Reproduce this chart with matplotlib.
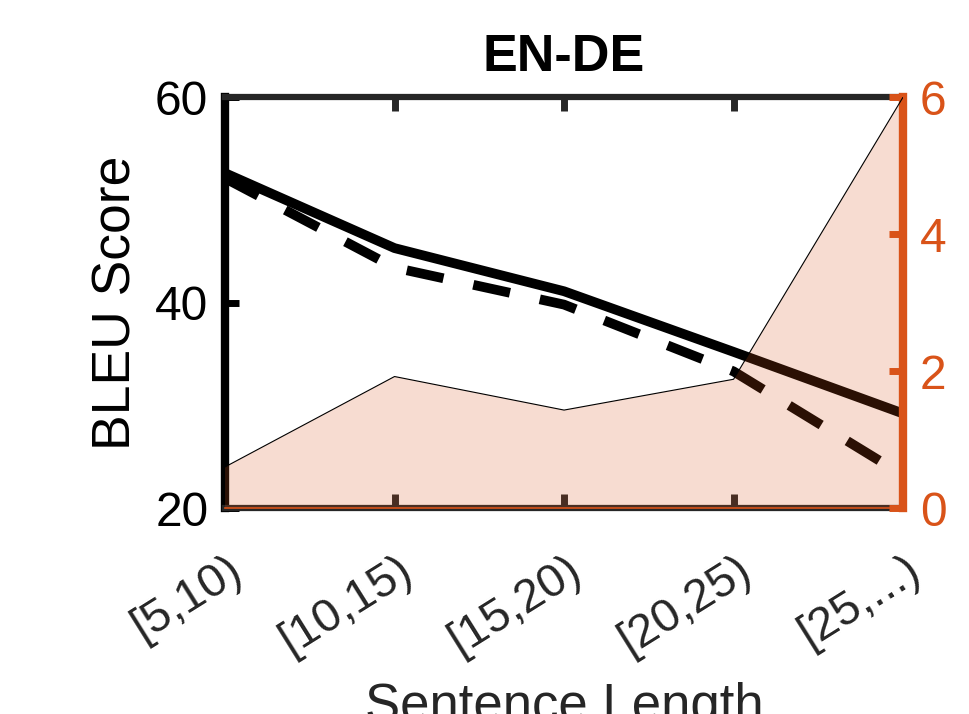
import matplotlib
matplotlib.use("Agg")
import matplotlib.pyplot as plt
import matplotlib.transforms as mtransforms
import numpy as np

categories = ["[5,10)", "[10,15)", "[15,20)", "[20,25)", "[25,...)"]
bleu_solid = [52.6, 45.3, 41.1, 35.2, 29.2]
bleu_dashed = [52.1, 43.4, 39.8, 33.3, 23.2]
count_area = [0.6, 1.92, 1.43, 1.88, 6.0]

orange = "#D95319"
dark = "#262626"

plt.rcParams['font.family'] = ['Liberation Sans', 'DejaVu Sans']
plt.rcParams['lines.scale_dashes'] = False

fig = plt.figure(figsize=(9.7, 7.14), dpi=100)
ax1 = fig.add_axes([0.232, 0.2885, 0.699, 0.5755])
x = np.arange(len(categories))

ax1.plot(x, bleu_solid, color="black", lw=7, solid_capstyle='butt', clip_on=False, zorder=3)
ax1.plot(x, bleu_dashed, color="black", lw=7, linestyle=(0, (27, 22)), dash_capstyle='butt', clip_on=False, zorder=3)
ax1.set_ylim(20, 60)
ax1.set_xlim(0, len(categories) - 1)
ax1.set_yticks([20, 40, 60])
ax1.set_xticks(x)
ax1.set_xticklabels(categories, rotation=32, ha='right', va='center', rotation_mode='anchor', fontsize=34, color=dark)
ax1.tick_params(axis='x', direction='in', length=10, width=5, top=True, colors=dark, labelcolor=dark, pad=42)
ax1.tick_params(axis='y', direction='in', length=10, width=5, labelsize=34.5, colors='black', pad=12)
offset = mtransforms.ScaledTranslation(10 / 72, 0, fig.dpi_scale_trans)
for lbl in ax1.get_xticklabels():
    lbl.set_transform(lbl.get_transform() + offset)
for s in ['top', 'bottom']:
    ax1.spines[s].set_color(dark)
    ax1.spines[s].set_linewidth(4.5)
ax1.spines['left'].set_color('black')
ax1.spines['left'].set_linewidth(6)
ax1.spines['right'].set_visible(False)
ax1.set_ylabel("BLEU Score", fontsize=38.5, labelpad=10)
ax1.set_xlabel("Sentence Length", fontsize=38, color=dark, labelpad=14)
ax1.set_title("EN-DE", fontsize=37.5, fontweight='bold', pad=19)

ax2 = ax1.twinx()
ax2.fill_between(x, 0, count_area, facecolor=orange, alpha=0.2, edgecolor='none', zorder=2)
ax2.plot(x, count_area, color='black', lw=0.8, zorder=3)
ax2.set_ylim(0, 6)
ax2.set_yticks([0, 2, 4, 6])
ax2.tick_params(axis='y', direction='in', length=10, width=5, colors=orange, labelsize=34.5, pad=12)
ax2.spines['right'].set_color(orange)
ax2.spines['right'].set_linewidth(6)
ax2.spines['bottom'].set_color(orange)
ax2.spines['bottom'].set_linewidth(1.2)
ax2.spines['top'].set_visible(False)
ax2.spines['left'].set_visible(False)

fig.savefig("out.png", dpi=100)
